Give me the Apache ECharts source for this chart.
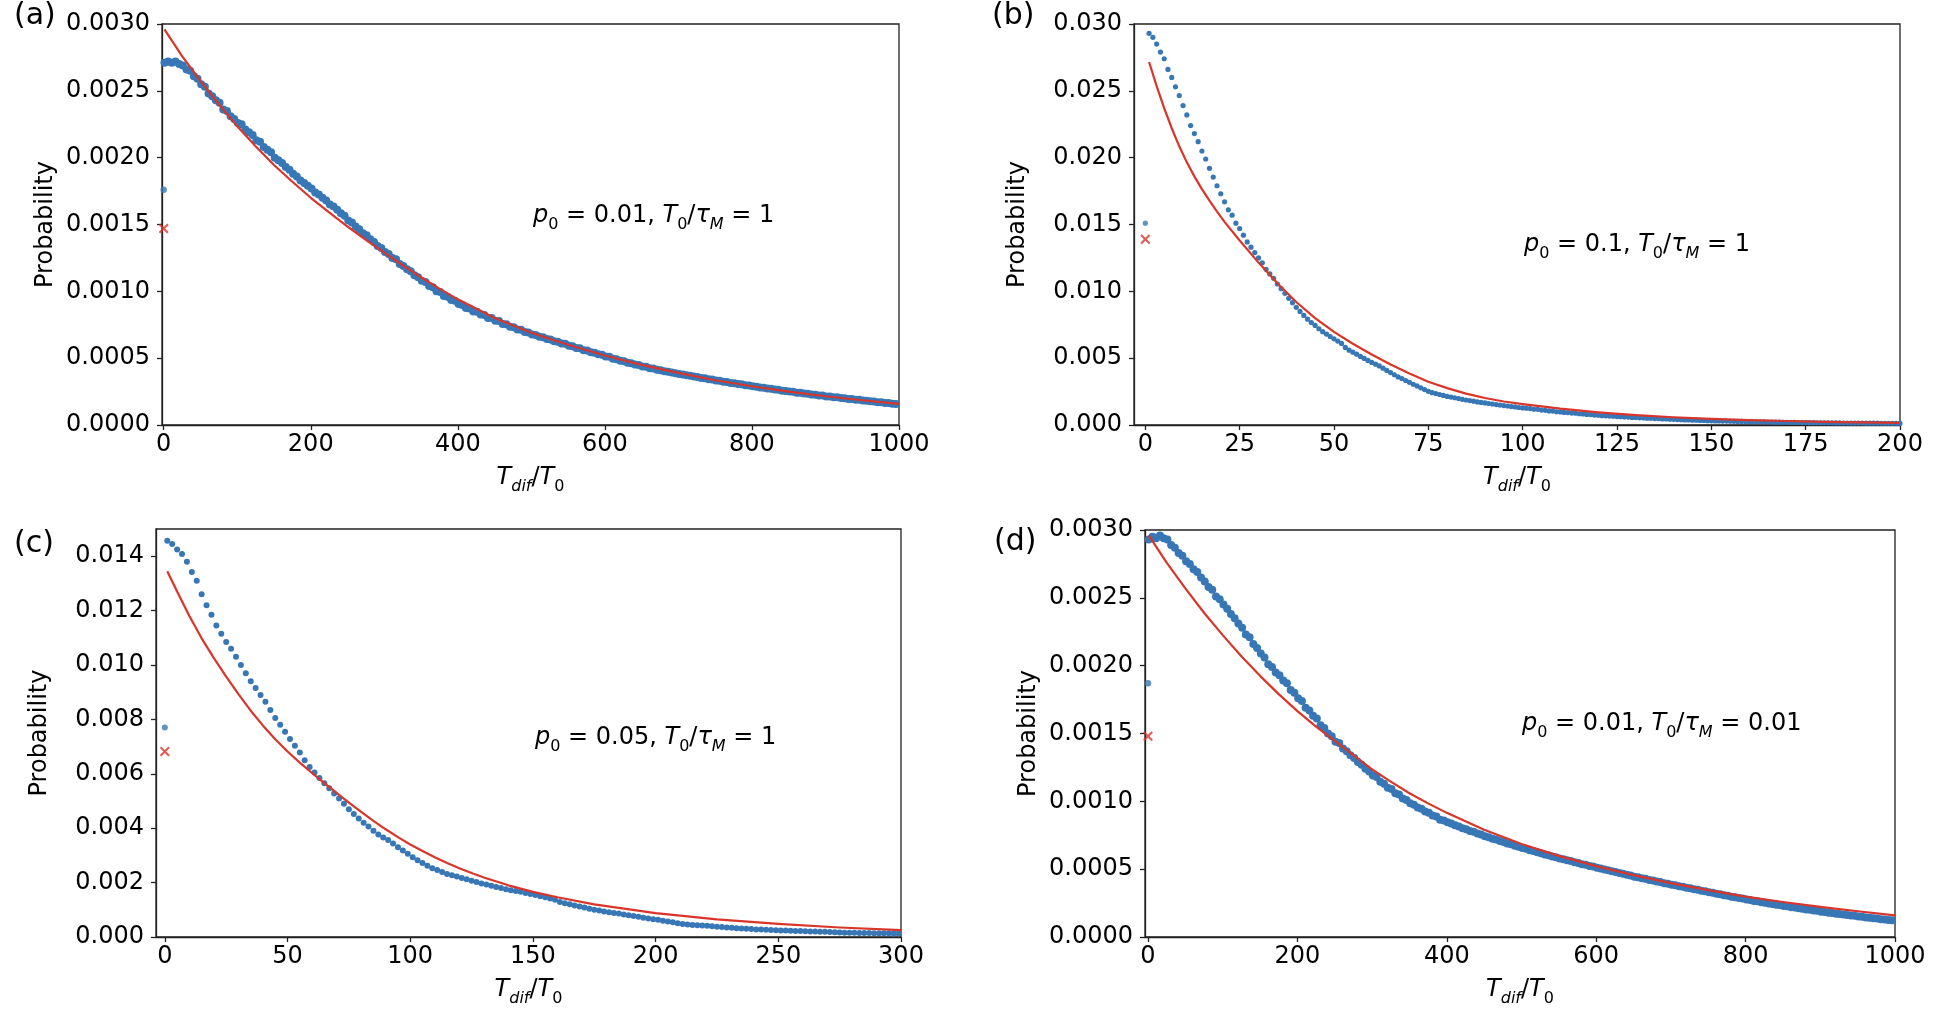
<!DOCTYPE html>
<html><head><meta charset="utf-8">
<script src="https://cdn.jsdelivr.net/npm/echarts/dist/echarts.min.js"></script>
<style>html,body{margin:0;padding:0;background:#fff}#c{width:1956px;height:1014px}</style>
</head><body><div id="c"></div>
<script>
// ---------- data ----------
// sample grid of each simulated series: x = X0 + i*DX
const gridA = [1, 5], gridB = [1, 1], gridC = [1, 2], gridD = [1, 5];

const blueA = [
2.71e-3,2.72e-3,2.71e-3,2.72e-3,2.70e-3,2.69e-3,2.66e-3,2.65e-3,2.61e-3,2.59e-3,
2.55e-3,2.53e-3,2.48e-3,2.46e-3,2.43e-3,2.41e-3,2.36e-3,2.35e-3,2.31e-3,2.29e-3,
2.26e-3,2.25e-3,2.21e-3,2.19e-3,2.17e-3,2.13e-3,2.12e-3,2.08e-3,2.06e-3,2.04e-3,
2.00e-3,1.98e-3,1.96e-3,1.93e-3,1.91e-3,1.88e-3,1.86e-3,1.83e-3,1.81e-3,1.79e-3,
1.77e-3,1.74e-3,1.725e-3,1.70e-3,1.68e-3,1.65e-3,1.635e-3,1.61e-3,1.585e-3,1.565e-3,
1.53e-3,1.515e-3,1.485e-3,1.465e-3,1.435e-3,1.42e-3,1.39e-3,1.37e-3,1.34e-3,1.325e-3,
1.295e-3,1.28e-3,1.25e-3,1.24e-3,1.205e-3,1.19e-3,1.165e-3,1.15e-3,1.12e-3,1.105e-3,
1.08e-3,1.07e-3,1.04e-3,1.03e-3,1.00e-3,0.995e-3,0.965e-3,0.96e-3,0.935e-3,0.93e-3,
0.905e-3,0.898e-3,0.875e-3,0.872e-3,0.85e-3,0.848e-3,0.826e-3,0.823e-3,0.80e-3,0.80e-3,
0.78e-3,0.778e-3,0.755e-3,0.753e-3,0.735e-3,0.732e-3,0.715e-3,0.712e-3,0.695e-3,0.692e-3,
0.677e-3,0.674e-3,0.66e-3,0.657e-3,0.643e-3,0.64e-3,0.626e-3,0.623e-3,0.61e-3,0.607e-3,
0.592e-3,0.59e-3,0.576e-3,0.574e-3,0.56e-3,0.557e-3,0.545e-3,0.541e-3,0.53e-3,0.526e-3,
0.512e-3,0.51e-3,0.495e-3,0.492e-3,0.48e-3,0.477e-3,0.466e-3,0.462e-3,0.452e-3,0.448e-3,
0.438e-3,0.435e-3,0.425e-3,0.423e-3,0.414e-3,0.41e-3,0.403e-3,0.399e-3,0.392e-3,0.388e-3,
0.382e-3,0.378e-3,0.372e-3,0.369e-3,0.362e-3,0.359e-3,0.352e-3,0.35e-3,0.343e-3,0.34e-3,
0.333e-3,0.331e-3,0.324e-3,0.322e-3,0.315e-3,0.313e-3,0.306e-3,0.304e-3,0.297e-3,0.295e-3,
0.289e-3,0.287e-3,0.281e-3,0.279e-3,0.273e-3,0.271e-3,0.265e-3,0.263e-3,0.257e-3,0.255e-3,
0.25e-3,0.248e-3,0.242e-3,0.241e-3,0.235e-3,0.234e-3,0.228e-3,0.227e-3,0.221e-3,0.22e-3,
0.214e-3,0.213e-3,0.208e-3,0.207e-3,0.202e-3,0.2e-3,0.195e-3,0.194e-3,0.189e-3,0.188e-3,
0.183e-3,0.182e-3,0.177e-3,0.176e-3,0.171e-3,0.17e-3,0.165e-3,0.164e-3,0.159e-3,0.158e-3];

const blueB = [
29.3e-3,29.0e-3,28.5e-3,27.9e-3,27.4e-3,26.6e-3,26.0e-3,25.3e-3,24.65e-3,23.9e-3,
23.2e-3,22.4e-3,21.8e-3,21.2e-3,20.5e-3,19.9e-3,19.2e-3,18.55e-3,17.9e-3,17.3e-3,
16.7e-3,16.1e-3,15.7e-3,15.1e-3,14.7e-3,14.2e-3,13.7e-3,13.3e-3,12.9e-3,12.5e-3,
12.14e-3,11.65e-3,11.3e-3,10.98e-3,10.55e-3,10.2e-3,9.85e-3,9.48e-3,9.15e-3,8.8e-3,
8.5e-3,8.2e-3,7.92e-3,7.67e-3,7.45e-3,7.2e-3,6.98e-3,6.8e-3,6.62e-3,6.45e-3,
6.28e-3,6.1e-3,5.8e-3,5.6e-3,5.45e-3,5.3e-3,5.13e-3,4.98e-3,4.83e-3,4.68e-3,
4.55e-3,4.42e-3,4.25e-3,4.08e-3,3.92e-3,3.76e-3,3.6e-3,3.47e-3,3.33e-3,3.19e-3,
3.05e-3,2.92e-3,2.78e-3,2.65e-3,2.52e-3,2.42e-3,2.35e-3,2.28e-3,2.21e-3,2.14e-3,
2.09e-3,2.04e-3,1.98e-3,1.92e-3,1.87e-3,1.83e-3,1.78e-3,1.73e-3,1.69e-3,1.65e-3,
1.61e-3,1.57e-3,1.53e-3,1.49e-3,1.45e-3,1.42e-3,1.38e-3,1.35e-3,1.31e-3,1.28e-3,
1.26e-3,1.23e-3,1.18e-3,1.17e-3,1.12e-3,1.10e-3,1.05e-3,1.04e-3,0.99e-3,0.98e-3,
0.94e-3,0.93e-3,0.89e-3,0.88e-3,0.84e-3,0.83e-3,0.79e-3,0.78e-3,0.74e-3,0.73e-3,
0.70e-3,0.69e-3,0.665e-3,0.655e-3,0.63e-3,0.625e-3,0.60e-3,0.59e-3,0.565e-3,0.555e-3,
0.535e-3,0.53e-3,0.505e-3,0.50e-3,0.48e-3,0.478e-3,0.455e-3,0.452e-3,0.43e-3,0.425e-3,
0.405e-3,0.402e-3,0.38e-3,0.378e-3,0.36e-3,0.358e-3,0.34e-3,0.335e-3,0.318e-3,0.312e-3,
0.305e-3,0.302e-3,0.292e-3,0.29e-3,0.28e-3,0.278e-3,0.268e-3,0.266e-3,0.258e-3,0.252e-3,
0.246e-3,0.242e-3,0.234e-3,0.232e-3,0.224e-3,0.222e-3,0.214e-3,0.212e-3,0.205e-3,0.202e-3,
0.196e-3,0.193e-3,0.187e-3,0.184e-3,0.178e-3,0.175e-3,0.171e-3,0.169e-3,0.166e-3,0.164e-3,
0.16e-3,0.159e-3,0.155e-3,0.154e-3,0.15e-3,0.149e-3,0.146e-3,0.145e-3,0.142e-3,0.141e-3,
0.138e-3,0.137e-3,0.134e-3,0.133e-3,0.13e-3,0.129e-3,0.126e-3,0.125e-3,0.122e-3,0.12e-3];

const blueC = [
14.57e-3,14.45e-3,14.25e-3,14.08e-3,13.8e-3,13.42e-3,13.1e-3,12.6e-3,12.2e-3,11.85e-3,
11.45e-3,11.15e-3,10.85e-3,10.6e-3,10.3e-3,10.0e-3,9.7e-3,9.4e-3,9.15e-3,8.9e-3,
8.65e-3,8.35e-3,8.05e-3,7.8e-3,7.55e-3,7.28e-3,7.03e-3,6.78e-3,6.5e-3,6.25e-3,
6.05e-3,5.85e-3,5.65e-3,5.47e-3,5.28e-3,5.09e-3,4.9e-3,4.7e-3,4.52e-3,4.36e-3,
4.2e-3,4.06e-3,3.91e-3,3.77e-3,3.66e-3,3.57e-3,3.44e-3,3.3e-3,3.18e-3,3.06e-3,
2.93e-3,2.82e-3,2.72e-3,2.62e-3,2.53e-3,2.46e-3,2.39e-3,2.32e-3,2.27e-3,2.22e-3,
2.17e-3,2.12e-3,2.07e-3,2.02e-3,1.97e-3,1.93e-3,1.88e-3,1.84e-3,1.8e-3,1.76e-3,
1.72e-3,1.69e-3,1.66e-3,1.62e-3,1.58e-3,1.54e-3,1.5e-3,1.46e-3,1.42e-3,1.37e-3,
1.29e-3,1.24e-3,1.2e-3,1.16e-3,1.12e-3,1.08e-3,1.04e-3,1.0e-3,0.97e-3,0.94e-3,
0.91e-3,0.88e-3,0.86e-3,0.83e-3,0.8e-3,0.77e-3,0.74e-3,0.71e-3,0.68e-3,0.65e-3,
0.63e-3,0.6e-3,0.57e-3,0.54e-3,0.51e-3,0.48e-3,0.46e-3,0.44e-3,0.43e-3,0.42e-3,
0.41e-3,0.395e-3,0.38e-3,0.365e-3,0.35e-3,0.34e-3,0.325e-3,0.31e-3,0.3e-3,0.29e-3,
0.28e-3,0.275e-3,0.265e-3,0.255e-3,0.248e-3,0.24e-3,0.235e-3,0.23e-3,0.225e-3,0.22e-3,
0.213e-3,0.205e-3,0.2e-3,0.195e-3,0.19e-3,0.183e-3,0.175e-3,0.168e-3,0.16e-3,0.155e-3,
0.152e-3,0.15e-3,0.147e-3,0.145e-3,0.142e-3,0.14e-3,0.137e-3,0.135e-3,0.132e-3,0.13e-3];

const blueD = [
2.93e-3,2.95e-3,2.94e-3,2.96e-3,2.94e-3,2.93e-3,2.89e-3,2.87e-3,2.83e-3,2.81e-3,
2.77e-3,2.75e-3,2.71e-3,2.69e-3,2.65e-3,2.62e-3,2.58e-3,2.56e-3,2.51e-3,2.49e-3,
2.45e-3,2.42e-3,2.38e-3,2.35e-3,2.31e-3,2.28e-3,2.23e-3,2.21e-3,2.16e-3,2.13e-3,
2.09e-3,2.06e-3,2.01e-3,1.99e-3,1.95e-3,1.93e-3,1.89e-3,1.87e-3,1.82e-3,1.80e-3,
1.76e-3,1.74e-3,1.69e-3,1.67e-3,1.63e-3,1.61e-3,1.56e-3,1.54e-3,1.50e-3,1.48e-3,
1.44e-3,1.43e-3,1.39e-3,1.37e-3,1.34e-3,1.32e-3,1.29e-3,1.27e-3,1.24e-3,1.22e-3,
1.19e-3,1.18e-3,1.145e-3,1.13e-3,1.10e-3,1.09e-3,1.06e-3,1.05e-3,1.02e-3,1.01e-3,
0.985e-3,0.975e-3,0.955e-3,0.945e-3,0.925e-3,0.915e-3,0.895e-3,0.888e-3,0.865e-3,0.858e-3,
0.845e-3,0.836e-3,0.823e-3,0.815e-3,0.802e-3,0.795e-3,0.782e-3,0.775e-3,0.762e-3,0.755e-3,
0.743e-3,0.736e-3,0.725e-3,0.718e-3,0.707e-3,0.70e-3,0.689e-3,0.683e-3,0.672e-3,0.666e-3,
0.656e-3,0.65e-3,0.64e-3,0.634e-3,0.624e-3,0.618e-3,0.609e-3,0.603e-3,0.594e-3,0.588e-3,
0.579e-3,0.574e-3,0.565e-3,0.56e-3,0.551e-3,0.546e-3,0.537e-3,0.533e-3,0.524e-3,0.52e-3,
0.51e-3,0.505e-3,0.497e-3,0.492e-3,0.484e-3,0.479e-3,0.471e-3,0.466e-3,0.458e-3,0.453e-3,
0.445e-3,0.441e-3,0.433e-3,0.429e-3,0.421e-3,0.417e-3,0.409e-3,0.405e-3,0.397e-3,0.393e-3,
0.385e-3,0.381e-3,0.374e-3,0.37e-3,0.363e-3,0.359e-3,0.352e-3,0.348e-3,0.341e-3,0.337e-3,
0.33e-3,0.326e-3,0.319e-3,0.315e-3,0.308e-3,0.304e-3,0.297e-3,0.293e-3,0.287e-3,0.283e-3,
0.276e-3,0.273e-3,0.266e-3,0.263e-3,0.256e-3,0.253e-3,0.247e-3,0.244e-3,0.238e-3,0.235e-3,
0.229e-3,0.226e-3,0.22e-3,0.217e-3,0.212e-3,0.209e-3,0.203e-3,0.201e-3,0.195e-3,0.193e-3,
0.187e-3,0.185e-3,0.179e-3,0.177e-3,0.172e-3,0.17e-3,0.165e-3,0.163e-3,0.158e-3,0.156e-3,
0.151e-3,0.149e-3,0.144e-3,0.142e-3,0.138e-3,0.136e-3,0.131e-3,0.129e-3,0.125e-3,0.123e-3];

// theory curves (red)
const redAx = [1,25,50,75,100,125,150,175,200,225,250,275,300,325,350,375,400,450,500,550,600,650,700,750,800,850,900,950,1000];
const redAy = [2.96e-3,2.76e-3,2.575e-3,2.40e-3,2.235e-3,2.085e-3,1.945e-3,1.82e-3,1.70e-3,1.59e-3,1.485e-3,1.385e-3,1.29e-3,1.195e-3,1.105e-3,1.02e-3,0.94e-3,0.80e-3,0.69e-3,0.60e-3,0.52e-3,0.45e-3,0.39e-3,0.335e-3,0.29e-3,0.25e-3,0.215e-3,0.185e-3,0.158e-3];
const redBx = [1,3,5,7,9,11,13,15,17,19,21,25,30,35,40,45,50,55,60,65,70,75,80,85,90,95,100,110,120,130,140,150,160,170,180,190,200];
const redBy = [27.16e-3,25.35e-3,23.7e-3,22.2e-3,20.85e-3,19.65e-3,18.6e-3,17.65e-3,16.78e-3,15.97e-3,15.2e-3,13.8e-3,12.15e-3,10.6e-3,9.2e-3,8.0e-3,6.97e-3,6.08e-3,5.28e-3,4.52e-3,3.85e-3,3.24e-3,2.76e-3,2.35e-3,2.02e-3,1.76e-3,1.56e-3,1.22e-3,0.95e-3,0.74e-3,0.58e-3,0.46e-3,0.37e-3,0.3e-3,0.24e-3,0.195e-3,0.16e-3];
const redCx = [1,5,10,15,20,25,30,35,40,45,50,55,60,65,70,75,80,85,90,95,100,105,110,115,120,125,130,140,150,160,175,200,225,250,275,300];
const redCy = [13.45e-3,12.7e-3,11.8e-3,10.98e-3,10.25e-3,9.57e-3,8.93e-3,8.32e-3,7.77e-3,7.27e-3,6.82e-3,6.41e-3,6.03e-3,5.66e-3,5.3e-3,4.94e-3,4.6e-3,4.27e-3,3.96e-3,3.67e-3,3.4e-3,3.16e-3,2.93e-3,2.72e-3,2.53e-3,2.35e-3,2.19e-3,1.9e-3,1.66e-3,1.46e-3,1.2e-3,0.88e-3,0.65e-3,0.48e-3,0.35e-3,0.25e-3];
const redDx = [1,25,50,75,100,125,150,175,200,225,250,275,300,325,350,375,400,450,500,550,600,650,700,750,800,850,900,950,1000];
const redDy = [2.96e-3,2.76e-3,2.57e-3,2.39e-3,2.225e-3,2.07e-3,1.925e-3,1.79e-3,1.665e-3,1.55e-3,1.445e-3,1.34e-3,1.235e-3,1.145e-3,1.06e-3,0.985e-3,0.915e-3,0.79e-3,0.685e-3,0.598e-3,0.522e-3,0.456e-3,0.397e-3,0.345e-3,0.298e-3,0.258e-3,0.222e-3,0.19e-3,0.16e-3];

// isolated points at T_dif = 0 (panels a..d)
const zeroBlue  = [1.76e-3, 15.1e-3, 7.7e-3, 1.87e-3];
const zeroCross = [1.47e-3, 13.9e-3, 6.82e-3, 1.48e-3];

// axes
const xTicksA = [0,200,400,600,800,1000];
const xTicksB = [0,25,50,75,100,125,150,175,200];
const xTicksC = [0,50,100,150,200,250,300];
const xTicksD = [0,200,400,600,800,1000];
const yTicksA = [0,0.0005,0.001,0.0015,0.002,0.0025,0.003];
const yTicksB = [0,0.005,0.01,0.015,0.02,0.025,0.03];
const yTicksC = [0,0.002,0.004,0.006,0.008,0.01,0.012,0.014];
const yTicksD = [0,0.0005,0.001,0.0015,0.002,0.0025,0.003];
const xRange = [[-2.3,1000],[-3,200],[-3.6,300],[-4,1000]];
const yRange = [[0,0.003],[0,0.03],[0,0.015],[0,0.003]];
const yDecimals = [4,3,3,4];

const panelLabels = ['(a)','(b)','(c)','(d)'];
const p0Text = ['0.01','0.1','0.05','0.01'];
const ratioText = ['1','1','1','0.01'];

// ---------- chart ----------
const F = 'DejaVu Sans';
const BLUE = '#3877b6', RED = '#d9352a', AX = '#222';
const grids = [
  {left:162, top:24, width:737, height:401},
  {left:1134, top:24, width:766, height:401},
  {left:156, top:529, width:745, height:408},
  {left:1145, top:530, width:750, height:407}
];
const xTicks = [xTicksA,xTicksB,xTicksC,xTicksD];
const yTicks = [yTicksA,yTicksB,yTicksC,yTicksD];
const blues = [blueA,blueB,blueC,blueD];
const bgrid = [gridA,gridB,gridC,gridD];
const reds = [[redAx,redAy],[redBx,redBy],[redCx,redCy],[redDx,redDy]];
const dotSize = [8,5.2,6,8];
const crossPath = 'path://M0,1.5L1.5,0L5,3.5L8.5,0L10,1.5L6.5,5L10,8.5L8.5,10L5,6.5L1.5,10L0,8.5L3.5,5Z';

const richAxis = {
  i:{fontFamily:F,fontSize:24,fontStyle:'italic',color:'#000',lineHeight:34},
  n:{fontFamily:F,fontSize:24,color:'#000',lineHeight:34},
  s:{fontFamily:F,fontSize:16,color:'#000',lineHeight:20,verticalAlign:'bottom'},
  si:{fontFamily:F,fontSize:16,fontStyle:'italic',color:'#000',lineHeight:20,verticalAlign:'bottom'}
};
const richG = {
  i:{fontFamily:F,fontSize:24,fontStyle:'italic',fill:'#000',color:'#000',lineHeight:34},
  n:{fontFamily:F,fontSize:24,fill:'#000',color:'#000',lineHeight:34},
  s:{fontFamily:F,fontSize:16,fill:'#000',color:'#000',lineHeight:20,verticalAlign:'bottom'},
  si:{fontFamily:F,fontSize:16,fontStyle:'italic',fill:'#000',color:'#000',lineHeight:20,verticalAlign:'bottom'}
};

const option = {
  animation:false,
  backgroundColor:'#fff',
  grid: grids.map(g => Object.assign({show:true, borderColor:AX, borderWidth:1.3, backgroundColor:'transparent', containLabel:false, outerBoundsMode:'none'}, g)),
  xAxis: grids.map((g,k) => ({
    type:'value', gridIndex:k, min:xRange[k][0], max:xRange[k][1],
    axisLine:{show:true, onZero:false, lineStyle:{color:AX,width:1.3}},
    axisTick:{show:true, length:5, lineStyle:{color:AX,width:1.3}, customValues:xTicks[k]},
    axisLabel:{show:true, color:'#000', fontFamily:F, fontSize:24, margin:8, customValues:xTicks[k], formatter:v=>String(v)},
    splitLine:{show:false},
    name:'{i|T}{si|dif}{n|/}{i|T}{s|0}', nameLocation:'middle', nameGap:36,
    nameTextStyle:{rich:richAxis}
  })),
  yAxis: grids.map((g,k) => ({
    type:'value', gridIndex:k, min:yRange[k][0], max:yRange[k][1],
    axisLine:{show:true, onZero:false, lineStyle:{color:AX,width:1.3}},
    axisTick:{show:true, length:5, lineStyle:{color:AX,width:1.3}, customValues:yTicks[k]},
    axisLabel:{show:true, color:'#000', fontFamily:F, fontSize:24, margin:12, customValues:yTicks[k], formatter:v=>Number(v).toFixed(yDecimals[k])},
    splitLine:{show:false},
    name:'Probability', nameLocation:'middle', nameGap:104,
    nameTextStyle:{color:'#000', fontFamily:F, fontSize:24}
  })),
  series: [],
  graphic: []
};

for (let k=0;k<4;k++){
  const [x0,dx] = bgrid[k];
  option.series.push({
    type:'scatter', xAxisIndex:k, yAxisIndex:k, symbolSize:dotSize[k], silent:true, z:2,
    itemStyle:{color:BLUE, opacity:1},
    data: blues[k].map((v,i)=>[x0+i*dx, v])
  });
  option.series.push({
    type:'scatter', xAxisIndex:k, yAxisIndex:k, symbolSize:Math.min(dotSize[k],6.5), silent:true, z:2,
    itemStyle:{color:BLUE}, data:[[0, zeroBlue[k]]]
  });
  option.series.push({
    type:'scatter', xAxisIndex:k, yAxisIndex:k, symbol:crossPath, symbolSize:10, silent:true, z:3,
    itemStyle:{color:RED}, data:[[0, zeroCross[k]]]
  });
  const [rx,ry] = reds[k];
  option.series.push({
    type:'line', xAxisIndex:k, yAxisIndex:k, smooth:false, showSymbol:false, silent:true, z:4,
    lineStyle:{color:RED, width:2.2, join:'round'}, data: rx.map((x,i)=>[x, ry[i]])
  });
}

const labelPos = [[14,1],[992,1],[14,529],[994,527]];
const annPos = [[533,216],[1524,245],[535,738],[1522,724]];
for (let k=0;k<4;k++){
  option.graphic.push({type:'text', left:labelPos[k][0], top:labelPos[k][1], silent:true,
    style:{text:panelLabels[k], fontFamily:F, fontSize:30, fill:'#000'}});
  option.graphic.push({type:'text', x:annPos[k][0], y:annPos[k][1], silent:true,
    style:{text:'{i|p}{s|0}{n| = '+p0Text[k]+', }{i|T}{s|0}{n|/}{i|τ}{si|M}{n| = '+ratioText[k]+'}',
      align:'left', verticalAlign:'middle', rich:richG}});
}

const chart = echarts.init(document.getElementById('c'), null, {renderer:'canvas'});
chart.setOption(option);
</script>
</body></html>
